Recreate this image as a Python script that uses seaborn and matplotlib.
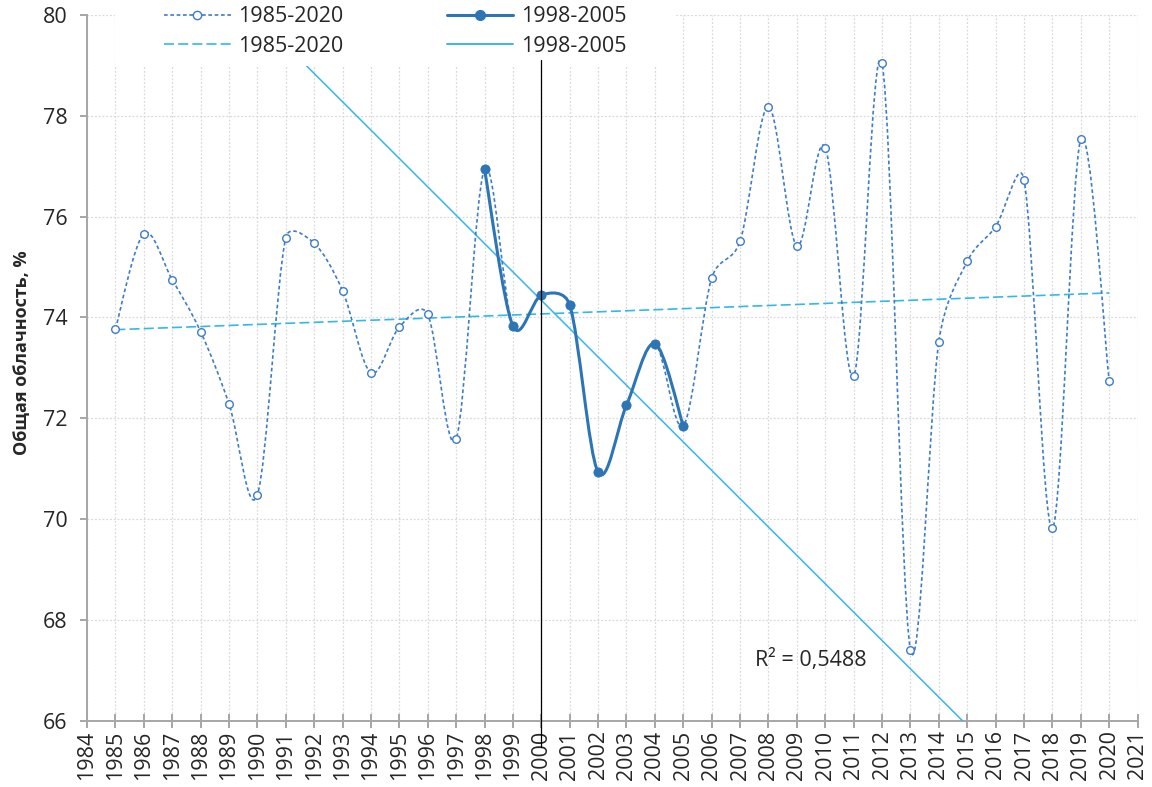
import numpy as np
import pandas as pd
import matplotlib
matplotlib.use("Agg")
import matplotlib.pyplot as plt
from matplotlib.path import Path
from matplotlib.patches import PathPatch, Rectangle
from matplotlib.lines import Line2D
import seaborn as sns

# Mean annual total cloud cover, %
years = list(range(1985, 2021))
cloud = [73.77, 75.66, 74.75, 73.72, 72.29, 70.48, 75.58, 75.47, 74.53, 72.90,
         73.81, 74.06, 71.59, 76.94, 73.83, 74.44, 74.25, 70.93, 72.26, 73.48,
         71.85, 74.78, 75.51, 78.18, 75.42, 77.37, 72.83, 79.04, 67.41, 73.52,
         75.11, 75.80, 76.73, 69.82, 77.53, 72.74]
sub_start, sub_end = 1998, 2005
label_all = "1985-2020"
label_sub = "1998-2005"
r2_text = "R² = 0,5488"
ylabel = "Общая облачность, %"
marker_year = 2000

df = pd.DataFrame({"year": years, "cloud": cloud})
sub = df[(df.year >= sub_start) & (df.year <= sub_end)]

C_DATA = "#3D7CC9"
C_SUB = "#2E75B6"
C_TREND = "#35B7E8"
C_GRID = "#D9D9D9"
C_TEXT = "#262626"
C_AXIS = "#A6A6A6"
FS = 15.5

sns.set_theme(style="white")
plt.rcParams["font.family"] = ["Open Sans", "DejaVu Sans"]
plt.rcParams["text.color"] = C_TEXT


def smooth_path(ax, xs, ys):
    """Smoothed-line Bezier path through the points, built in screen space
    with the control-arm length limited to half of each segment."""
    data = np.column_stack([xs, ys]).astype(float)
    pts = ax.transData.transform(data)
    n = len(pts)
    verts = [pts[0]]
    codes = [Path.MOVETO]
    for i in range(n - 1):
        p0 = pts[max(i - 1, 0)]
        p1 = pts[i]
        p2 = pts[i + 1]
        p3 = pts[min(i + 2, n - 1)]
        d12 = np.hypot(*(p2 - p1))
        d02 = np.hypot(*(p2 - p0))
        d13 = np.hypot(*(p3 - p1))
        f0 = 1 / 6
        f1 = 1 / 6
        if d02 / 6 >= d12 / 2 and d02 > 0:
            f0 = d12 / (2 * d02)
        if d13 / 6 >= d12 / 2 and d13 > 0:
            f1 = d12 / (2 * d13)
        verts += [p1 + (p2 - p0) * f0, p2 - (p3 - p1) * f1, p2]
        codes += [Path.CURVE4] * 3
    verts = ax.transData.inverted().transform(np.array(verts))
    return Path(verts, codes)


fig = plt.figure(figsize=(11.52, 7.87), dpi=100)
ax = fig.add_axes([0.0755, 0.0842, 0.912, 0.8968])
ax.set_xlim(1984, 2021)
ax.set_ylim(66, 80)

# grid
ax.set_xticks(range(1984, 2022))
ax.set_yticks(range(66, 81, 2))
ax.grid(True, color=C_GRID, linestyle=(0, (1.5, 1.5)), linewidth=0.9)
ax.set_axisbelow(True)

# whole-period series (dotted, smoothed)
ax.add_patch(PathPatch(smooth_path(ax, df.year, df.cloud), fill=False,
                       edgecolor=C_DATA, linewidth=1.2,
                       linestyle=(0, (2.2, 1.6)), zorder=3))
sns.scatterplot(x=df.year, y=df.cloud, ax=ax, marker="o", s=30,
                facecolor="white", edgecolor=C_DATA, linewidth=1.0,
                zorder=3.5, legend=False)

# 1998-2005 sub-period (solid, smoothed)
ax.add_patch(PathPatch(smooth_path(ax, sub.year, sub.cloud), fill=False,
                       edgecolor=C_SUB, linewidth=2.2, zorder=3.6))
sns.scatterplot(x=sub.year, y=sub.cloud, ax=ax, marker="o", s=45,
                color=C_SUB, edgecolor=C_SUB, linewidth=0.5,
                zorder=3.7, legend=False)

# linear trends
sns.regplot(x=df.year, y=df.cloud, ax=ax, scatter=False, ci=None,
            truncate=True, line_kws=dict(color=C_TREND, lw=1.2,
                                         ls=(0, (6, 2.5)), zorder=2.8))
sns.regplot(x=sub.year, y=sub.cloud, ax=ax, scatter=False, ci=None,
            truncate=False, line_kws=dict(color=C_TREND, lw=1.1, zorder=2.8))
ax.set_xlim(1984, 2021)
ax.set_ylim(66, 80)

# vertical marker line at 2000
ax.axvline(marker_year, ymin=-0.037, ymax=0.936, color="black", lw=0.9,
           clip_on=False, zorder=6)

ax.text(2007.52, 67.2, r2_text, fontsize=FS, va="center", ha="left",
        color=C_TEXT)

# axes styling
for s in ["top", "right"]:
    ax.spines[s].set_visible(False)
for s in ["left", "bottom"]:
    ax.spines[s].set_color(C_AXIS)
    ax.spines[s].set_linewidth(1.4)
ax.tick_params(axis="x", direction="inout", length=10, width=1.4,
               color=C_AXIS, labelsize=FS, labelcolor=C_TEXT, pad=2,
               labelrotation=90, bottom=True)
ax.tick_params(axis="y", direction="out", length=5, width=1.4,
               color=C_AXIS, labelsize=FS, labelcolor=C_TEXT, pad=9, left=True)
ax.set_xlabel("")
ax.set_ylabel("")
fig.text(0.019, 0.5515, ylabel, rotation=90, ha="center", va="center",
         fontsize=13, fontweight="bold", color=C_TEXT)

# legend backdrop
ax.add_patch(Rectangle((0.0267, 0.9277), 0.533, 0.12, transform=ax.transAxes,
                       facecolor="white", edgecolor="none", clip_on=False,
                       zorder=5))
handles = [
    Line2D([], [], color=C_DATA, lw=1.2, ls=(0, (2.2, 1.6)), marker="o",
           markersize=6, markerfacecolor="white", markeredgecolor=C_DATA),
    Line2D([], [], color=C_TREND, lw=1.2, ls=(0, (6, 2.5))),
    Line2D([], [], color=C_SUB, lw=2.2, marker="o", markersize=7,
           markerfacecolor=C_SUB, markeredgecolor=C_SUB),
    Line2D([], [], color=C_TREND, lw=1.4),
]
leg = fig.legend(handles, [label_all, label_all, label_sub, label_sub],
                 ncol=2, loc="center", bbox_to_anchor=(0.343, 0.96),
                 frameon=False, fontsize=FS, handlelength=3.1,
                 handletextpad=0.35, columnspacing=4.8, labelspacing=0.4)
leg.set_zorder(7)

fig.savefig("out.png", dpi=100)
